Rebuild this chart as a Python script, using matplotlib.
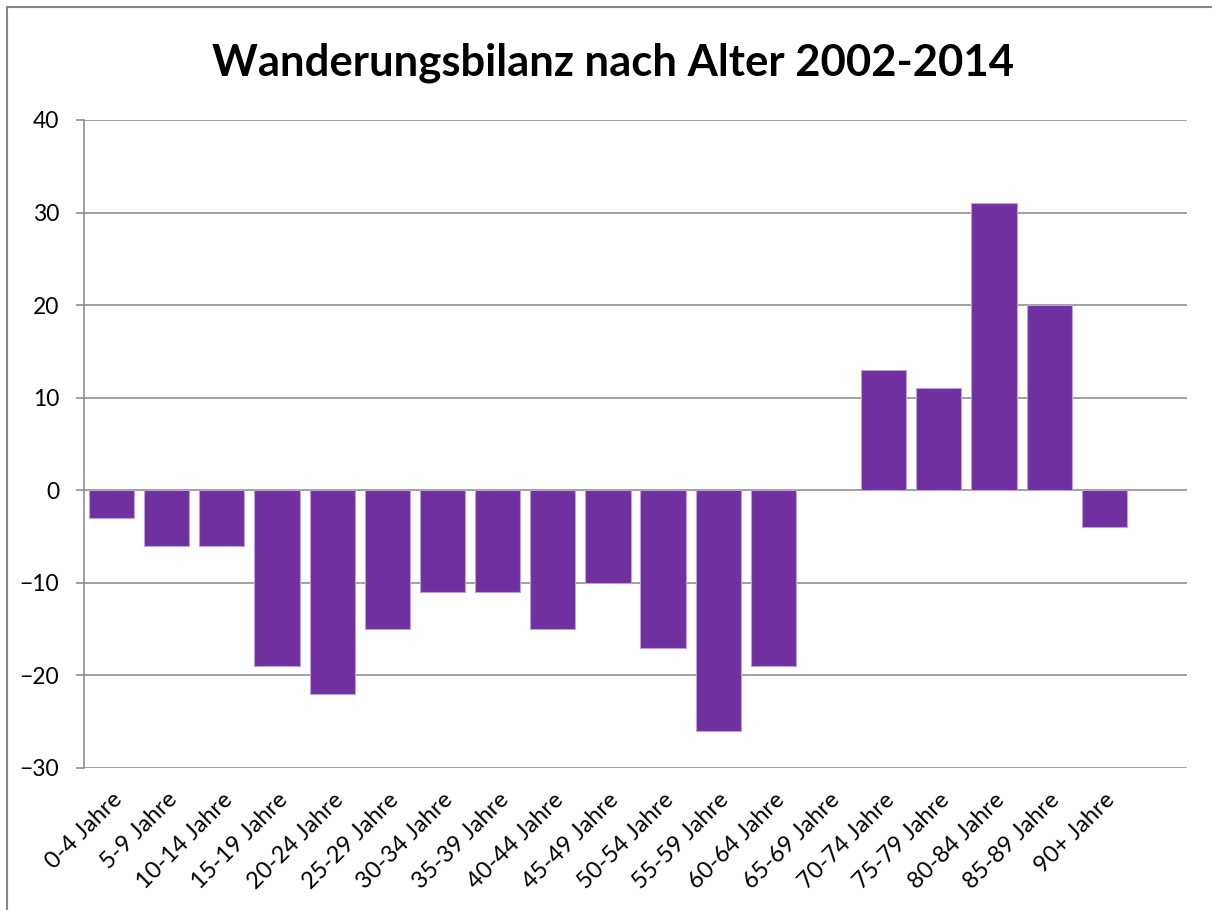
import matplotlib.pyplot as plt
from matplotlib.patches import Rectangle

categories = ['0-4 Jahre', '5-9 Jahre', '10-14 Jahre', '15-19 Jahre', '20-24 Jahre',
              '25-29 Jahre', '30-34 Jahre', '35-39 Jahre', '40-44 Jahre', '45-49 Jahre',
              '50-54 Jahre', '55-59 Jahre', '60-64 Jahre', '65-69 Jahre', '70-74 Jahre',
              '75-79 Jahre', '80-84 Jahre', '85-89 Jahre', '90+ Jahre']
values = [-3, -6, -6, -19, -22, -15, -11, -11, -15, -10, -17, -26, -19, 0, 13, 11, 31, 20, -4]
y_ticks = [-30, -20, -10, 0, 10, 20, 30, 40]

plt.rcParams['font.family'] = ['Lato', 'DejaVu Sans']

fig = plt.figure(figsize=(12.12, 9.10), dpi=100)
# chart area border (cropped on right and bottom)
fig.patches.append(Rectangle((7 / 1212, -0.1), 1.2, 1 - 7 / 910 + 0.1,
                             transform=fig.transFigure, fill=False,
                             edgecolor='#868686', linewidth=1.5))

ax = fig.add_axes([84 / 1212, (910 - 768) / 910, 1103 / 1212, 648 / 910])
x = list(range(len(categories)))
edge_w = [0.8 if v != 0 else 0 for v in values]
ax.bar(x, values, width=0.82, color='#7030A0', edgecolor='#B9A2D3', linewidth=edge_w, zorder=3)

ax.set_xlim(-0.5, len(categories) + 0.5)
ax.set_ylim(-30, 40)
ax.set_yticks(y_ticks)
ax.yaxis.grid(True, color='#868686', linewidth=1.1)
ax.set_axisbelow(True)
for s in ['top', 'right', 'bottom']:
    ax.spines[s].set_visible(False)
ax.spines['left'].set_color('#868686')
ax.spines['left'].set_linewidth(1.1)
ax.tick_params(axis='y', length=6, width=1.1, color='#868686', pad=12, labelsize=16.5)
ax.set_xticks(x)
ax.set_xticklabels(categories, rotation=45, ha='right', va='top', rotation_mode='anchor', fontsize=17)
ax.tick_params(axis='x', length=0, pad=15)

fig.text(0.506, 0.917, 'Wanderungsbilanz nach Alter 2002-2014', ha='center', va='baseline',
         fontsize=31.4, fontweight='bold')

fig.savefig('out.png', dpi=100)
